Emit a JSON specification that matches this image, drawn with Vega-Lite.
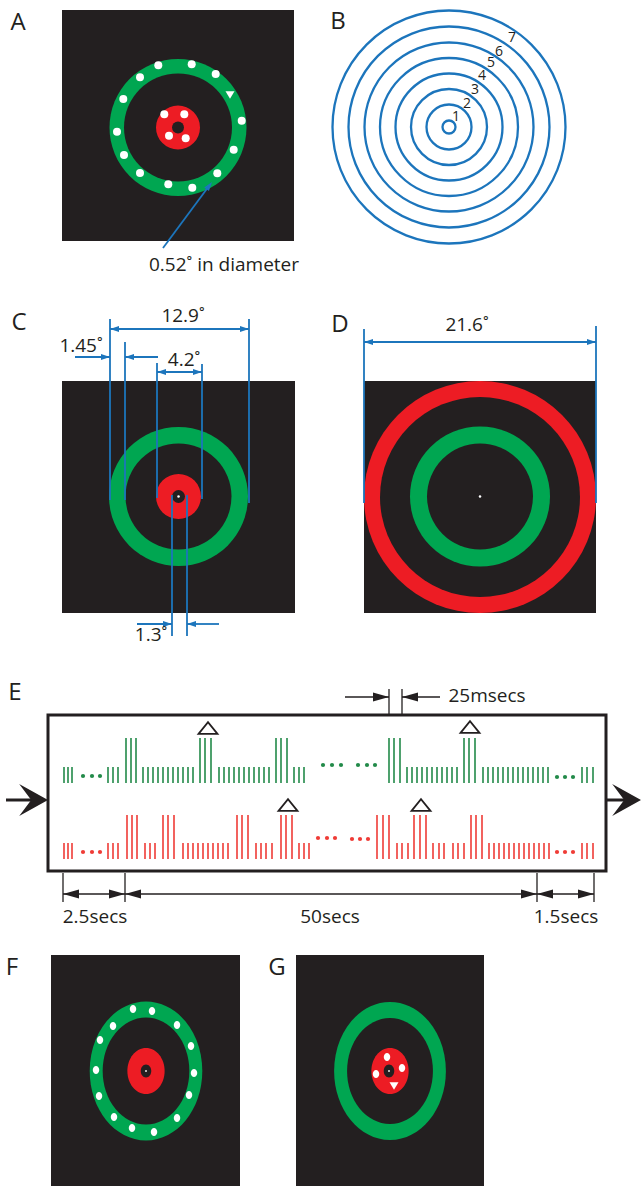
{
  "$schema": "https://vega.github.io/schema/vega-lite/v6.json",
  "width": 642,
  "height": 1186,
  "padding": 0,
  "autosize": {"type": "none"},
  "background": "#ffffff",
  "config": {"view": {"stroke": null}},
  "datasets": {
    "panels": [
      {"panel": "A", "x": 62, "x2": 294, "y": 10, "y2": 241},
      {"panel": "C", "x": 62, "x2": 295, "y": 381, "y2": 613},
      {"panel": "D", "x": 364, "x2": 596, "y": 381, "y2": 613},
      {"panel": "F", "x": 51, "x2": 240, "y": 955, "y2": 1186},
      {"panel": "G", "x": 296, "x2": 484, "y": 955, "y2": 1186}
    ],
    "targets": [
      {"ring": 0, "x": 449, "y": 127, "d": 13},
      {"ring": 1, "x": 449, "y": 127, "d": 45},
      {"ring": 2, "x": 449, "y": 127, "d": 76},
      {"ring": 3, "x": 449, "y": 127, "d": 107},
      {"ring": 4, "x": 449, "y": 127, "d": 138},
      {"ring": 5, "x": 449, "y": 127, "d": 169},
      {"ring": 6, "x": 449, "y": 127, "d": 201},
      {"ring": 7, "x": 449, "y": 127, "d": 233}
    ],
    "disks": [
      {"x": 178, "y": 127.5, "d": 137, "role": "green"},
      {"x": 178, "y": 127.5, "d": 108, "role": "bg"},
      {"x": 178, "y": 127.5, "d": 44, "role": "red"},
      {"x": 178, "y": 127.5, "d": 12, "role": "bg"},
      {"x": 164.3, "y": 114.3, "d": 8, "role": "white"},
      {"x": 184.3, "y": 114.3, "d": 8, "role": "white"},
      {"x": 169, "y": 135.7, "d": 8, "role": "white"},
      {"x": 185.7, "y": 138.3, "d": 8, "role": "white"},
      {"x": 158.3, "y": 65.3, "d": 8, "role": "white"},
      {"x": 191.7, "y": 64.3, "d": 8, "role": "white"},
      {"x": 215.7, "y": 74, "d": 8, "role": "white"},
      {"x": 241.7, "y": 120.7, "d": 8, "role": "white"},
      {"x": 233.7, "y": 149.7, "d": 8, "role": "white"},
      {"x": 217.3, "y": 173.3, "d": 8, "role": "white"},
      {"x": 192.3, "y": 187.7, "d": 8, "role": "white"},
      {"x": 168.3, "y": 184.3, "d": 8, "role": "white"},
      {"x": 140, "y": 173, "d": 8, "role": "white"},
      {"x": 124, "y": 155, "d": 8, "role": "white"},
      {"x": 117, "y": 131.7, "d": 8, "role": "white"},
      {"x": 123.3, "y": 99, "d": 8, "role": "white"},
      {"x": 140, "y": 77.3, "d": 8, "role": "white"},
      {"x": 178.5, "y": 496.5, "d": 139, "role": "green"},
      {"x": 178.5, "y": 496.5, "d": 106, "role": "bg"},
      {"x": 178.5, "y": 496.5, "d": 45, "role": "red"},
      {"x": 178.5, "y": 496.5, "d": 13, "role": "bg"},
      {"x": 178.5, "y": 496.5, "d": 2.5, "role": "white"},
      {"x": 480, "y": 497, "d": 232, "role": "red"},
      {"x": 480, "y": 497, "d": 200, "role": "bg"},
      {"x": 480, "y": 496.5, "d": 140, "role": "green"},
      {"x": 480, "y": 496.5, "d": 106, "role": "bg"},
      {"x": 480, "y": 496.5, "d": 2.5, "role": "white"}
    ],
    "ovals": [
      {"x": 146, "y": 1071, "d": 139, "role": "green"},
      {"x": 146, "y": 1071, "d": 107, "role": "bg"},
      {"x": 146, "y": 1071, "d": 46, "role": "red"},
      {"x": 146, "y": 1071, "d": 13, "role": "bg"},
      {"x": 146, "y": 1071, "d": 2, "role": "white"},
      {"x": 133, "y": 1009, "d": 8, "role": "white"},
      {"x": 152, "y": 1011, "d": 8, "role": "white"},
      {"x": 177, "y": 1025, "d": 8, "role": "white"},
      {"x": 191, "y": 1046, "d": 8, "role": "white"},
      {"x": 194, "y": 1073, "d": 8, "role": "white"},
      {"x": 189, "y": 1095, "d": 8, "role": "white"},
      {"x": 177, "y": 1118, "d": 8, "role": "white"},
      {"x": 154, "y": 1132, "d": 8, "role": "white"},
      {"x": 132, "y": 1128, "d": 8, "role": "white"},
      {"x": 114, "y": 1117, "d": 8, "role": "white"},
      {"x": 99, "y": 1096, "d": 8, "role": "white"},
      {"x": 96, "y": 1070, "d": 8, "role": "white"},
      {"x": 100, "y": 1040, "d": 8, "role": "white"},
      {"x": 113, "y": 1026, "d": 8, "role": "white"},
      {"x": 390, "y": 1071, "d": 138, "role": "green"},
      {"x": 390, "y": 1071, "d": 106, "role": "bg"},
      {"x": 390, "y": 1071, "d": 46, "role": "red"},
      {"x": 389, "y": 1071, "d": 13, "role": "bg"},
      {"x": 389, "y": 1071, "d": 2, "role": "white"},
      {"x": 387, "y": 1057, "d": 8, "role": "white"},
      {"x": 402, "y": 1068, "d": 8, "role": "white"},
      {"x": 376, "y": 1074, "d": 8, "role": "white"}
    ],
    "cues": [
      {"panel": "A", "x": 230, "y": 95},
      {"panel": "G", "x": 394, "y": 1086}
    ],
    "dims": [
      {"x": 110, "y": 319, "x2": 110, "y2": 500},
      {"x": 249, "y": 319, "x2": 249, "y2": 503},
      {"x": 125, "y": 342, "x2": 125, "y2": 500},
      {"x": 157, "y": 363, "x2": 157, "y2": 498},
      {"x": 202, "y": 364, "x2": 202, "y2": 499},
      {"x": 110, "y": 329, "x2": 249, "y2": 329},
      {"x": 75, "y": 357, "x2": 110, "y2": 357},
      {"x": 125, "y": 357, "x2": 158, "y2": 357},
      {"x": 157, "y": 372, "x2": 202, "y2": 372},
      {"x": 172, "y": 495, "x2": 172, "y2": 636},
      {"x": 187, "y": 495, "x2": 187, "y2": 636},
      {"x": 137, "y": 624, "x2": 172, "y2": 624},
      {"x": 187, "y": 624, "x2": 219, "y2": 624},
      {"x": 364, "y": 329, "x2": 364, "y2": 503},
      {"x": 596, "y": 326, "x2": 596, "y2": 503},
      {"x": 364, "y": 342, "x2": 596, "y2": 342},
      {"x": 163, "y": 248, "x2": 209, "y2": 186}
    ],
    "dimHeads": [
      {"x": 110, "y": 329, "dir": 180},
      {"x": 249, "y": 329, "dir": 0},
      {"x": 110, "y": 357, "dir": 0},
      {"x": 125, "y": 357, "dir": 180},
      {"x": 157, "y": 372, "dir": 180},
      {"x": 202, "y": 372, "dir": 0},
      {"x": 172, "y": 624, "dir": 0},
      {"x": 187, "y": 624, "dir": 180},
      {"x": 364, "y": 342, "dir": 180},
      {"x": 596, "y": 342, "dir": 0},
      {"x": 212, "y": 182, "dir": 307}
    ],
    "frame": [{"x": 48, "x2": 606, "y": 715, "y2": 871}],
    "pulses": [
      {"x": 64, "y": 783, "y2": 767, "role": "pulseG"},
      {"x": 68, "y": 783, "y2": 767, "role": "pulseG"},
      {"x": 72, "y": 783, "y2": 767, "role": "pulseG"},
      {"x": 108, "y": 783, "y2": 767, "role": "pulseG"},
      {"x": 113, "y": 783, "y2": 767, "role": "pulseG"},
      {"x": 118, "y": 783, "y2": 767, "role": "pulseG"},
      {"x": 126, "y": 783, "y2": 738, "role": "pulseG"},
      {"x": 131, "y": 783, "y2": 738, "role": "pulseG"},
      {"x": 136, "y": 783, "y2": 738, "role": "pulseG"},
      {"x": 143, "y": 783, "y2": 767, "role": "pulseG"},
      {"x": 148, "y": 783, "y2": 767, "role": "pulseG"},
      {"x": 153, "y": 783, "y2": 767, "role": "pulseG"},
      {"x": 158, "y": 783, "y2": 767, "role": "pulseG"},
      {"x": 163, "y": 783, "y2": 767, "role": "pulseG"},
      {"x": 168, "y": 783, "y2": 767, "role": "pulseG"},
      {"x": 173, "y": 783, "y2": 767, "role": "pulseG"},
      {"x": 178, "y": 783, "y2": 767, "role": "pulseG"},
      {"x": 183, "y": 783, "y2": 767, "role": "pulseG"},
      {"x": 188, "y": 783, "y2": 767, "role": "pulseG"},
      {"x": 193, "y": 783, "y2": 767, "role": "pulseG"},
      {"x": 200, "y": 783, "y2": 738, "role": "pulseG"},
      {"x": 205, "y": 783, "y2": 738, "role": "pulseG"},
      {"x": 211, "y": 783, "y2": 738, "role": "pulseG"},
      {"x": 219, "y": 783, "y2": 767, "role": "pulseG"},
      {"x": 224, "y": 783, "y2": 767, "role": "pulseG"},
      {"x": 229, "y": 783, "y2": 767, "role": "pulseG"},
      {"x": 234, "y": 783, "y2": 767, "role": "pulseG"},
      {"x": 239, "y": 783, "y2": 767, "role": "pulseG"},
      {"x": 244, "y": 783, "y2": 767, "role": "pulseG"},
      {"x": 249, "y": 783, "y2": 767, "role": "pulseG"},
      {"x": 254, "y": 783, "y2": 767, "role": "pulseG"},
      {"x": 259, "y": 783, "y2": 767, "role": "pulseG"},
      {"x": 264, "y": 783, "y2": 767, "role": "pulseG"},
      {"x": 269, "y": 783, "y2": 767, "role": "pulseG"},
      {"x": 276, "y": 783, "y2": 738, "role": "pulseG"},
      {"x": 281, "y": 783, "y2": 738, "role": "pulseG"},
      {"x": 287, "y": 783, "y2": 738, "role": "pulseG"},
      {"x": 294, "y": 783, "y2": 767, "role": "pulseG"},
      {"x": 299, "y": 783, "y2": 767, "role": "pulseG"},
      {"x": 304, "y": 783, "y2": 767, "role": "pulseG"},
      {"x": 389, "y": 783, "y2": 738, "role": "pulseG"},
      {"x": 394, "y": 783, "y2": 738, "role": "pulseG"},
      {"x": 400, "y": 783, "y2": 738, "role": "pulseG"},
      {"x": 407, "y": 783, "y2": 767, "role": "pulseG"},
      {"x": 412, "y": 783, "y2": 767, "role": "pulseG"},
      {"x": 417, "y": 783, "y2": 767, "role": "pulseG"},
      {"x": 422, "y": 783, "y2": 767, "role": "pulseG"},
      {"x": 427, "y": 783, "y2": 767, "role": "pulseG"},
      {"x": 432, "y": 783, "y2": 767, "role": "pulseG"},
      {"x": 437, "y": 783, "y2": 767, "role": "pulseG"},
      {"x": 442, "y": 783, "y2": 767, "role": "pulseG"},
      {"x": 447, "y": 783, "y2": 767, "role": "pulseG"},
      {"x": 452, "y": 783, "y2": 767, "role": "pulseG"},
      {"x": 457, "y": 783, "y2": 767, "role": "pulseG"},
      {"x": 464, "y": 783, "y2": 738, "role": "pulseG"},
      {"x": 469, "y": 783, "y2": 738, "role": "pulseG"},
      {"x": 475, "y": 783, "y2": 738, "role": "pulseG"},
      {"x": 483, "y": 783, "y2": 767, "role": "pulseG"},
      {"x": 488, "y": 783, "y2": 767, "role": "pulseG"},
      {"x": 493, "y": 783, "y2": 767, "role": "pulseG"},
      {"x": 498, "y": 783, "y2": 767, "role": "pulseG"},
      {"x": 503, "y": 783, "y2": 767, "role": "pulseG"},
      {"x": 508, "y": 783, "y2": 767, "role": "pulseG"},
      {"x": 513, "y": 783, "y2": 767, "role": "pulseG"},
      {"x": 518, "y": 783, "y2": 767, "role": "pulseG"},
      {"x": 523, "y": 783, "y2": 767, "role": "pulseG"},
      {"x": 528, "y": 783, "y2": 767, "role": "pulseG"},
      {"x": 533, "y": 783, "y2": 767, "role": "pulseG"},
      {"x": 538, "y": 783, "y2": 767, "role": "pulseG"},
      {"x": 543, "y": 783, "y2": 767, "role": "pulseG"},
      {"x": 548, "y": 783, "y2": 767, "role": "pulseG"},
      {"x": 582, "y": 783, "y2": 767, "role": "pulseG"},
      {"x": 587, "y": 783, "y2": 767, "role": "pulseG"},
      {"x": 593, "y": 783, "y2": 767, "role": "pulseG"},
      {"x": 64, "y": 859, "y2": 843, "role": "pulseR"},
      {"x": 68, "y": 859, "y2": 843, "role": "pulseR"},
      {"x": 72, "y": 859, "y2": 843, "role": "pulseR"},
      {"x": 108, "y": 859, "y2": 843, "role": "pulseR"},
      {"x": 113, "y": 859, "y2": 843, "role": "pulseR"},
      {"x": 118, "y": 859, "y2": 843, "role": "pulseR"},
      {"x": 127, "y": 859, "y2": 815, "role": "pulseR"},
      {"x": 132, "y": 859, "y2": 815, "role": "pulseR"},
      {"x": 137, "y": 859, "y2": 815, "role": "pulseR"},
      {"x": 145, "y": 859, "y2": 843, "role": "pulseR"},
      {"x": 150, "y": 859, "y2": 843, "role": "pulseR"},
      {"x": 155, "y": 859, "y2": 843, "role": "pulseR"},
      {"x": 163, "y": 859, "y2": 815, "role": "pulseR"},
      {"x": 168, "y": 859, "y2": 815, "role": "pulseR"},
      {"x": 174, "y": 859, "y2": 815, "role": "pulseR"},
      {"x": 183, "y": 859, "y2": 843, "role": "pulseR"},
      {"x": 188, "y": 859, "y2": 843, "role": "pulseR"},
      {"x": 193, "y": 859, "y2": 843, "role": "pulseR"},
      {"x": 198, "y": 859, "y2": 843, "role": "pulseR"},
      {"x": 203, "y": 859, "y2": 843, "role": "pulseR"},
      {"x": 208, "y": 859, "y2": 843, "role": "pulseR"},
      {"x": 213, "y": 859, "y2": 843, "role": "pulseR"},
      {"x": 218, "y": 859, "y2": 843, "role": "pulseR"},
      {"x": 223, "y": 859, "y2": 843, "role": "pulseR"},
      {"x": 228, "y": 859, "y2": 843, "role": "pulseR"},
      {"x": 237, "y": 859, "y2": 815, "role": "pulseR"},
      {"x": 242, "y": 859, "y2": 815, "role": "pulseR"},
      {"x": 248, "y": 859, "y2": 815, "role": "pulseR"},
      {"x": 256, "y": 859, "y2": 843, "role": "pulseR"},
      {"x": 261, "y": 859, "y2": 843, "role": "pulseR"},
      {"x": 266, "y": 859, "y2": 843, "role": "pulseR"},
      {"x": 272, "y": 859, "y2": 843, "role": "pulseR"},
      {"x": 281, "y": 859, "y2": 815, "role": "pulseR"},
      {"x": 286, "y": 859, "y2": 815, "role": "pulseR"},
      {"x": 292, "y": 859, "y2": 815, "role": "pulseR"},
      {"x": 299, "y": 859, "y2": 843, "role": "pulseR"},
      {"x": 304, "y": 859, "y2": 843, "role": "pulseR"},
      {"x": 309, "y": 859, "y2": 843, "role": "pulseR"},
      {"x": 377, "y": 859, "y2": 815, "role": "pulseR"},
      {"x": 383, "y": 859, "y2": 815, "role": "pulseR"},
      {"x": 389, "y": 859, "y2": 815, "role": "pulseR"},
      {"x": 397, "y": 859, "y2": 843, "role": "pulseR"},
      {"x": 402, "y": 859, "y2": 843, "role": "pulseR"},
      {"x": 408, "y": 859, "y2": 843, "role": "pulseR"},
      {"x": 414, "y": 859, "y2": 815, "role": "pulseR"},
      {"x": 420, "y": 859, "y2": 815, "role": "pulseR"},
      {"x": 426, "y": 859, "y2": 815, "role": "pulseR"},
      {"x": 433, "y": 859, "y2": 843, "role": "pulseR"},
      {"x": 439, "y": 859, "y2": 843, "role": "pulseR"},
      {"x": 444, "y": 859, "y2": 843, "role": "pulseR"},
      {"x": 453, "y": 859, "y2": 843, "role": "pulseR"},
      {"x": 458, "y": 859, "y2": 843, "role": "pulseR"},
      {"x": 464, "y": 859, "y2": 843, "role": "pulseR"},
      {"x": 471, "y": 859, "y2": 815, "role": "pulseR"},
      {"x": 476, "y": 859, "y2": 815, "role": "pulseR"},
      {"x": 482, "y": 859, "y2": 815, "role": "pulseR"},
      {"x": 489, "y": 859, "y2": 843, "role": "pulseR"},
      {"x": 494, "y": 859, "y2": 843, "role": "pulseR"},
      {"x": 499, "y": 859, "y2": 843, "role": "pulseR"},
      {"x": 504, "y": 859, "y2": 843, "role": "pulseR"},
      {"x": 509, "y": 859, "y2": 843, "role": "pulseR"},
      {"x": 514, "y": 859, "y2": 843, "role": "pulseR"},
      {"x": 519, "y": 859, "y2": 843, "role": "pulseR"},
      {"x": 524, "y": 859, "y2": 843, "role": "pulseR"},
      {"x": 529, "y": 859, "y2": 843, "role": "pulseR"},
      {"x": 534, "y": 859, "y2": 843, "role": "pulseR"},
      {"x": 539, "y": 859, "y2": 843, "role": "pulseR"},
      {"x": 544, "y": 859, "y2": 843, "role": "pulseR"},
      {"x": 549, "y": 859, "y2": 843, "role": "pulseR"},
      {"x": 582, "y": 859, "y2": 843, "role": "pulseR"},
      {"x": 587, "y": 859, "y2": 843, "role": "pulseR"},
      {"x": 593, "y": 859, "y2": 843, "role": "pulseR"}
    ],
    "beads": [
      {"x": 83, "y": 776, "role": "pulseG"},
      {"x": 92, "y": 776, "role": "pulseG"},
      {"x": 100, "y": 776, "role": "pulseG"},
      {"x": 323, "y": 765, "role": "pulseG"},
      {"x": 332, "y": 765, "role": "pulseG"},
      {"x": 341, "y": 765, "role": "pulseG"},
      {"x": 358, "y": 765, "role": "pulseG"},
      {"x": 367, "y": 765, "role": "pulseG"},
      {"x": 375, "y": 765, "role": "pulseG"},
      {"x": 557, "y": 777, "role": "pulseG"},
      {"x": 565, "y": 777, "role": "pulseG"},
      {"x": 573, "y": 777, "role": "pulseG"},
      {"x": 83, "y": 852, "role": "pulseR"},
      {"x": 92, "y": 852, "role": "pulseR"},
      {"x": 100, "y": 852, "role": "pulseR"},
      {"x": 318, "y": 838, "role": "pulseR"},
      {"x": 327, "y": 838, "role": "pulseR"},
      {"x": 335, "y": 838, "role": "pulseR"},
      {"x": 352, "y": 839, "role": "pulseR"},
      {"x": 360, "y": 839, "role": "pulseR"},
      {"x": 368, "y": 839, "role": "pulseR"},
      {"x": 557, "y": 852, "role": "pulseR"},
      {"x": 565, "y": 852, "role": "pulseR"},
      {"x": 573, "y": 852, "role": "pulseR"}
    ],
    "targetsOn": [
      {"x": 208, "y": 728},
      {"x": 470, "y": 727},
      {"x": 288, "y": 805},
      {"x": 421, "y": 805}
    ],
    "guides": [
      {"x": 63, "y": 894, "x2": 594, "y2": 894},
      {"x": 63, "y": 873, "x2": 63, "y2": 902},
      {"x": 125, "y": 873, "x2": 125, "y2": 902},
      {"x": 537, "y": 873, "x2": 537, "y2": 902},
      {"x": 594, "y": 873, "x2": 594, "y2": 902},
      {"x": 345, "y": 697, "x2": 389, "y2": 697},
      {"x": 402, "y": 697, "x2": 440, "y2": 697},
      {"x": 389, "y": 689, "x2": 389, "y2": 714},
      {"x": 402, "y": 689, "x2": 402, "y2": 714}
    ],
    "shafts": [
      {"x": 6, "y": 800, "x2": 36, "y2": 800},
      {"x": 606, "y": 800, "x2": 628, "y2": 800}
    ],
    "guideHeads": [
      {"x": 63, "y": 894, "dir": 180},
      {"x": 125, "y": 894, "dir": 0},
      {"x": 125, "y": 894, "dir": 180},
      {"x": 537, "y": 894, "dir": 0},
      {"x": 537, "y": 894, "dir": 180},
      {"x": 594, "y": 894, "dir": 0},
      {"x": 389, "y": 697, "dir": 0},
      {"x": 402, "y": 697, "dir": 180}
    ],
    "flowHeads": [
      {"x": 48, "y": 800, "dir": 0},
      {"x": 641, "y": 800, "dir": 0}
    ],
    "letters": [
      {"x": 18, "y": 23, "t": "A"},
      {"x": 338, "y": 22, "t": "B"},
      {"x": 19, "y": 323, "t": "C"},
      {"x": 340, "y": 325, "t": "D"},
      {"x": 15, "y": 693, "t": "E"},
      {"x": 12, "y": 968, "t": "F"},
      {"x": 277, "y": 968, "t": "G"}
    ],
    "notes": [
      {"x": 224, "y": 265, "t": "0.52˚ in diameter"},
      {"x": 183, "y": 316, "t": "12.9˚"},
      {"x": 81, "y": 346, "t": "1.45˚"},
      {"x": 184, "y": 360, "t": "4.2˚"},
      {"x": 151, "y": 635, "t": "1.3˚"},
      {"x": 467, "y": 325, "t": "21.6˚"},
      {"x": 487, "y": 696, "t": "25msecs"},
      {"x": 95, "y": 917, "t": "2.5secs"},
      {"x": 330, "y": 917, "t": "50secs"},
      {"x": 566, "y": 917, "t": "1.5secs"}
    ],
    "ringNumbers": [
      {"x": 456, "y": 117, "t": "1"},
      {"x": 467, "y": 104, "t": "2"},
      {"x": 475, "y": 90, "t": "3"},
      {"x": 482, "y": 76, "t": "4"},
      {"x": 491, "y": 63, "t": "5"},
      {"x": 499, "y": 52, "t": "6"},
      {"x": 512, "y": 38, "t": "7"}
    ]
  },
  "encoding": {
    "x": {"field": "x", "type": "quantitative", "axis": null, "scale": {"domain": [0, 642], "nice": false, "zero": false}},
    "y": {"field": "y", "type": "quantitative", "axis": null, "scale": {"domain": [0, 1186], "nice": false, "zero": false, "reverse": true}}
  },
  "layer": [
    {
      "data": {"name": "panels"},
      "mark": {"type": "rect", "color": "#231f20"},
      "encoding": {"x2": {"field": "x2"}, "y2": {"field": "y2"}}
    },
    {
      "data": {"name": "targets"},
      "mark": {"type": "point", "shape": "circle", "filled": false, "strokeWidth": 2.3, "opacity": 1, "color": "#1c75bc"},
      "encoding": {
        "size": {"field": "d", "type": "quantitative", "legend": null, "scale": {"type": "pow", "exponent": 2, "domain": [0, 300], "range": [0, 90000]}}
      }
    },
    {
      "data": {"name": "disks"},
      "mark": {"type": "point", "shape": "circle", "filled": true, "opacity": 1, "strokeWidth": 0},
      "encoding": {
        "size": {"field": "d", "type": "quantitative", "legend": null, "scale": {"type": "pow", "exponent": 2, "domain": [0, 300], "range": [0, 90000]}},
        "color": {"field": "role", "type": "nominal", "legend": null, "scale": {"domain": ["bg", "green", "red", "white", "pulseG", "pulseR"], "range": ["#231f20", "#00a651", "#ed1c24", "#ffffff", "#228a49", "#ef3b36"]}}
      }
    },
    {
      "data": {"name": "ovals"},
      "mark": {"type": "point", "shape": "M -0.81 0 C -0.81 -0.5523 -0.4474 -1 0 -1 C 0.4474 -1 0.81 -0.5523 0.81 0 C 0.81 0.5523 0.4474 1 0 1 C -0.4474 1 -0.81 0.5523 -0.81 0 Z", "filled": true, "opacity": 1, "strokeWidth": 0},
      "encoding": {
        "size": {"field": "d", "type": "quantitative", "legend": null, "scale": {"type": "pow", "exponent": 2, "domain": [0, 300], "range": [0, 90000]}},
        "color": {"field": "role", "type": "nominal", "legend": null, "scale": {"domain": ["bg", "green", "red", "white", "pulseG", "pulseR"], "range": ["#231f20", "#00a651", "#ed1c24", "#ffffff", "#228a49", "#ef3b36"]}}
      }
    },
    {
      "data": {"name": "cues"},
      "mark": {"type": "point", "shape": "M -1 -0.85 L 1 -0.85 L 0 0.85 Z", "size": 81, "filled": true, "opacity": 1, "strokeWidth": 0, "color": "#ffffff"}
    },
    {
      "data": {"name": "dims"},
      "mark": {"type": "rule", "color": "#1c75bc", "strokeWidth": 1.8},
      "encoding": {"x2": {"field": "x2"}, "y2": {"field": "y2"}}
    },
    {
      "data": {"name": "dimHeads"},
      "mark": {"type": "point", "shape": "M 0 0 L -2 -0.65 L -2 0.65 Z", "size": 81, "filled": true, "opacity": 1, "strokeWidth": 0, "color": "#1c75bc"},
      "encoding": {"angle": {"field": "dir", "type": "quantitative", "scale": {"domain": [0, 360], "range": [0, 360]}}}
    },
    {
      "data": {"name": "frame"},
      "mark": {"type": "rect", "filled": false, "stroke": "#231f20", "strokeWidth": 3},
      "encoding": {"x2": {"field": "x2"}, "y2": {"field": "y2"}}
    },
    {
      "data": {"name": "pulses"},
      "mark": {"type": "rule", "strokeWidth": 1.6},
      "encoding": {
        "y2": {"field": "y2"},
        "color": {"field": "role", "type": "nominal", "legend": null, "scale": {"domain": ["bg", "green", "red", "white", "pulseG", "pulseR"], "range": ["#231f20", "#00a651", "#ed1c24", "#ffffff", "#228a49", "#ef3b36"]}}
      }
    },
    {
      "data": {"name": "beads"},
      "mark": {"type": "point", "shape": "circle", "size": 18, "filled": true, "opacity": 1, "strokeWidth": 0},
      "encoding": {
        "color": {"field": "role", "type": "nominal", "legend": null, "scale": {"domain": ["bg", "green", "red", "white", "pulseG", "pulseR"], "range": ["#231f20", "#00a651", "#ed1c24", "#ffffff", "#228a49", "#ef3b36"]}}
      }
    },
    {
      "data": {"name": "targetsOn"},
      "mark": {"type": "point", "shape": "M -1 0.62 L 1 0.62 L 0 -0.62 Z", "size": 361, "filled": true, "opacity": 1, "fill": "#ffffff", "stroke": "#231f20", "strokeWidth": 1.8}
    },
    {
      "data": {"name": "guides"},
      "mark": {"type": "rule", "color": "#231f20", "strokeWidth": 1.3},
      "encoding": {"x2": {"field": "x2"}, "y2": {"field": "y2"}}
    },
    {
      "data": {"name": "shafts"},
      "mark": {"type": "rule", "color": "#231f20", "strokeWidth": 3},
      "encoding": {"x2": {"field": "x2"}, "y2": {"field": "y2"}}
    },
    {
      "data": {"name": "guideHeads"},
      "mark": {"type": "point", "shape": "M 0 0 L -2 -0.55 L -2 0.55 Z", "size": 256, "filled": true, "opacity": 1, "strokeWidth": 0, "color": "#231f20"},
      "encoding": {"angle": {"field": "dir", "type": "quantitative", "scale": {"domain": [0, 360], "range": [0, 360]}}}
    },
    {
      "data": {"name": "flowHeads"},
      "mark": {"type": "point", "shape": "M 0 0 L -1.8 -1 L -1.05 0 L -1.8 1 Z", "size": 1024, "filled": true, "opacity": 1, "strokeWidth": 0, "color": "#231f20"},
      "encoding": {"angle": {"field": "dir", "type": "quantitative", "scale": {"domain": [0, 360], "range": [0, 360]}}}
    },
    {
      "data": {"name": "letters"},
      "mark": {"type": "text", "font": "Open Sans", "fontSize": 24, "color": "#231f20", "align": "center", "baseline": "middle"},
      "encoding": {"text": {"field": "t"}}
    },
    {
      "data": {"name": "notes"},
      "mark": {"type": "text", "font": "Open Sans", "fontSize": 19, "color": "#231f20", "align": "center", "baseline": "middle"},
      "encoding": {"text": {"field": "t"}}
    },
    {
      "data": {"name": "ringNumbers"},
      "mark": {"type": "text", "font": "Open Sans", "fontSize": 14, "color": "#231f20", "align": "center", "baseline": "middle"},
      "encoding": {"text": {"field": "t"}}
    }
  ]
}
